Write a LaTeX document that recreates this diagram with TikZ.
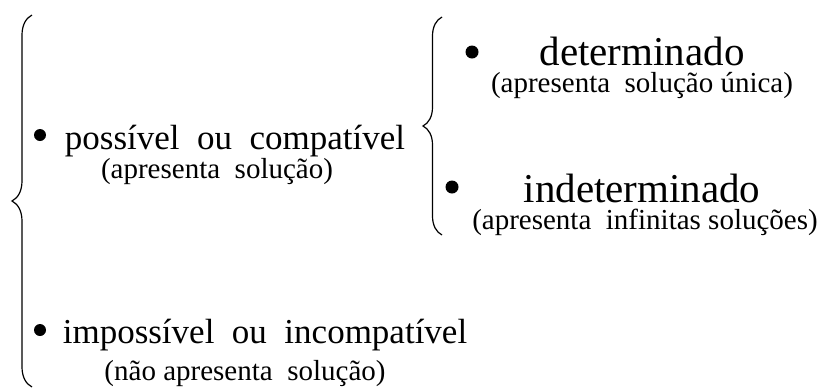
\documentclass[tikz,border=0pt]{standalone}
\usepackage{fontspec}
\setmainfont{Liberation Serif}
\usetikzlibrary{decorations.pathreplacing}

\begin{document}
\begin{tikzpicture}[x=1pt,y=1pt]
    \useasboundingbox (0,0) rectangle (821,-389);

    \tikzstyle{bnode} = [circle, fill=black, inner sep = 0pt, minimum size = 12pt]
    \tikzstyle{mnode} = [inner sep = 0pt, anchor=base, font=\fontsize{35}{40}\selectfont]
    \tikzstyle{hnode} = [inner sep = 0pt, anchor=base, font=\fontsize{41}{46}\selectfont]
    \tikzstyle{snode} = [inner sep = 0pt, anchor=base, font=\fontsize{29}{34}\selectfont]
    \tikzstyle{bigbrace} = [line width=1.2pt, decorate, decoration={brace, amplitude=20pt}]

    % left column
    \coordinate (c1) at (32,-387);
    \coordinate (c2) at (32,-15);
    \node[bnode] (b1) at (40,-135) {};
    \node[mnode] (pos) at (235,-149) {possível\ \ ou\ \ compatível};
    \node[snode] (pos2) at (217,-178) {(apresenta\ \ solução)};

    \node[bnode] (b2) at (40,-330) {};
    \node[mnode] (imp) at (265,-343) {impossível\ \ ou\ \ incompatível};
    \node[snode] (imp2) at (245,-380) {(não\ apresenta\ \ solução)};

    % right column
    \coordinate (c3) at (442,-235);
    \coordinate (c4) at (442,-17);
    \node[bnode, minimum size = 13pt] (b3) at (472,-52) {};
    \node[hnode] (det) at (642,-65) {determinado};
    \node[snode] (det2) at (642,-92) {(apresenta\ \ solução\ única)};

    \node[bnode, minimum size = 13pt] (b4) at (452,-187) {};
    \node[hnode] (ind) at (642,-202) {indeterminado};
    \node[snode] (ind2) at (645,-229) {(apresenta\ \ infinitas\ soluções)};

    \draw[bigbrace] (c1) -- (c2);
    \draw[bigbrace, decoration={amplitude=19pt}] (c3) -- (c4);
\end{tikzpicture}
\end{document}
